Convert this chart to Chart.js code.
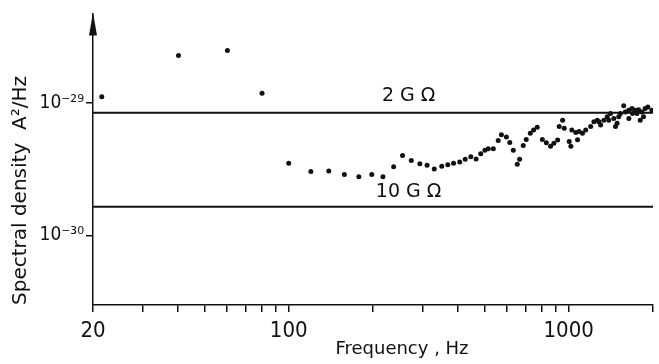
<!DOCTYPE html>
<html>
<head>
<meta charset="utf-8">
<script src="https://cdn.jsdelivr.net/npm/chart.js@4.4.1/dist/chart.umd.min.js"></script>
<style>
  html, body { margin: 0; padding: 0; background: #ffffff; }
  canvas { display: block; }
</style>
</head>
<body>
<canvas id="c" width="659" height="364"></canvas>
<script>
// ---- data ----
const freqHz = [21.5, 40.4, 60.4, 80.3,
  100, 120, 139, 158, 178, 198, 217, 237, 255, 274, 294, 312, 331, 352, 370, 388,
  408, 427, 447, 467, 485, 502, 516, 538, 560, 575, 599, 616, 634, 655, 668, 688,
  705, 729, 749, 772, 805, 832, 861, 885, 913, 925, 951, 964, 1004, 1018, 1026,
  1060, 1075, 1089, 1120, 1150, 1198, 1230, 1265, 1282, 1300, 1335, 1373, 1390,
  1410, 1449, 1469, 1489, 1509, 1530, 1572, 1593, 1637, 1640, 1683, 1690, 1729,
  1753, 1776, 1800, 1826, 1850, 1875, 1917, 1981];
const spectralDensity = [1.11e-29, 2.27e-29, 2.48e-29, 1.18e-29,
  3.49e-30, 3.03e-30, 3.05e-30, 2.88e-30, 2.77e-30, 2.88e-30, 2.77e-30, 3.29e-30,
  4.00e-30, 3.67e-30, 3.47e-30, 3.38e-30, 3.17e-30, 3.32e-30, 3.40e-30, 3.49e-30,
  3.58e-30, 3.74e-30, 3.92e-30, 3.76e-30, 4.12e-30, 4.39e-30, 4.49e-30, 4.49e-30,
  5.19e-30, 5.73e-30, 5.51e-30, 5.01e-30, 4.39e-30, 3.43e-30, 3.74e-30, 4.75e-30,
  5.29e-30, 5.89e-30, 6.23e-30, 6.53e-30, 5.29e-30, 5.00e-30, 4.70e-30, 4.94e-30,
  5.23e-30, 6.61e-30, 7.39e-30, 6.42e-30, 5.11e-30, 4.70e-30, 6.23e-30,
  5.97e-30, 5.26e-30, 6.07e-30, 5.89e-30, 6.23e-30, 6.61e-30, 7.19e-30, 7.39e-30,
  7.19e-30, 6.79e-30, 7.39e-30, 7.84e-30, 7.39e-30,
  8.29e-30, 7.61e-30, 6.61e-30, 6.99e-30, 7.84e-30, 8.29e-30, 9.5e-30, 8.53e-30,
  8.77e-30, 7.61e-30, 9.03e-30, 8.29e-30, 8.77e-30,
  8.29e-30, 8.87e-30, 7.39e-30, 8.53e-30, 7.84e-30, 9.03e-30, 9.29e-30, 8.77e-30];

const resistorNames = ['2 G Ω', '10 G Ω'];
const resistorLevels = [8.4e-30, 1.64e-30];

const xRange = [20, 2000];
const xTickValues = [20, 30, 40, 50, 60, 70, 80, 90, 100, 200, 300, 400, 500, 600, 700, 800, 900, 1000, 2000];
const xTickLabels = ['20', '', '', '', '', '', '', '', '100', '', '', '', '', '', '', '', '', '1000', ''];
const yRange = [2.98e-31, 4.72e-29];
const yTickValues = [1e-30, 1e-29];
const yTickLabels = ['10⁻³⁰', '10⁻²⁹'];

const xTitle = 'Frequency , Hz';
const yTitle = 'Spectral density  A²/Hz';

// ---- chart ----
const points = freqHz.map((f, i) => ({ x: f, y: spectralDensity[i] }));
const levelSets = resistorLevels.map((v, i) => ({
  type: 'line',
  label: resistorNames[i],
  data: [{ x: xRange[0], y: v }, { x: xRange[1], y: v }],
  borderColor: '#111',
  borderWidth: 2,
  pointRadius: 0,
  fill: false
}));

const decorPlugin = {
  id: 'decor',
  afterDraw(chart) {
    const { ctx, chartArea, scales } = chart;
    ctx.save();
    // arrow head on the y axis
    const ax = scales.x.getPixelForValue(xRange[0]);
    ctx.fillStyle = '#111';
    ctx.beginPath();
    ctx.moveTo(ax, chartArea.top - 1);
    ctx.lineTo(ax - 4, chartArea.top + 22);
    ctx.lineTo(ax + 4, chartArea.top + 22);
    ctx.closePath();
    ctx.fill();
    // resistor line labels
    ctx.font = "19px 'DejaVu Sans'";
    ctx.textAlign = 'center';
    ctx.textBaseline = 'middle';
    const lx = scales.x.getPixelForValue(268);
    resistorLevels.forEach((v, i) => {
      const py = scales.y.getPixelForValue(v);
      ctx.fillText(resistorNames[i], lx, py - 17 + (i === 1 ? 2 : 0));
    });
    // x title
    ctx.font = "18px 'DejaVu Sans'";
    ctx.fillText(xTitle, 402, 349);
    ctx.restore();
  }
};

new Chart(document.getElementById('c'), {
  type: 'scatter',
  data: {
    datasets: [
      ...levelSets,
      {
        label: 'Spectral density',
        data: points,
        backgroundColor: '#111',
        borderWidth: 0,
        pointRadius: 2.5,
        pointHoverRadius: 2.5
      }
    ]
  },
  options: {
    responsive: false,
    devicePixelRatio: 1,
    animation: false,
    layout: { padding: { top: 8, right: 1, left: 0, bottom: 0 } },
    plugins: { legend: { display: false }, tooltip: { enabled: false } },
    scales: {
      x: {
        type: 'logarithmic',
        min: xRange[0],
        max: xRange[1],
        afterBuildTicks(scale) { scale.ticks = xTickValues.map(v => ({ value: v })); },
        afterFit(scale) { scale.height = 59; },
        ticks: {
          autoSkip: false,
          maxRotation: 0,
          padding: 6,
          color: '#111',
          font: { family: "'Liberation Sans Narrow', 'DejaVu Sans Condensed', sans-serif", size: 22 },
          callback(value) {
            const i = xTickValues.indexOf(value);
            return i >= 0 ? xTickLabels[i] : '';
          }
        },
        grid: { drawOnChartArea: false, drawTicks: true, tickLength: 7, color: '#111', lineWidth: 1.5 },
        border: { display: true, color: '#111', width: 1.5 },
        title: { display: false, text: xTitle }
      },
      y: {
        type: 'logarithmic',
        min: yRange[0],
        max: yRange[1],
        afterBuildTicks(scale) { scale.ticks = yTickValues.map(v => ({ value: v })); },
        afterFit(scale) { scale.width = 93; },
        ticks: {
          autoSkip: false,
          padding: 2,
          color: '#111',
          font: { family: "'DejaVu Sans Condensed', sans-serif", size: 19 },
          callback(value) {
            const i = yTickValues.findIndex(v => Math.abs(v - value) / v < 1e-6);
            return i >= 0 ? yTickLabels[i] : '';
          }
        },
        grid: { drawOnChartArea: false, drawTicks: true, tickLength: 7, color: '#111', lineWidth: 1.5 },
        border: { display: true, color: '#111', width: 1.5 },
        title: {
          display: true,
          text: yTitle,
          align: 'start',
          color: '#111',
          padding: { top: 9, bottom: 0 },
          font: { family: "'DejaVu Sans'", size: 20 }
        }
      }
    }
  },
  plugins: [decorPlugin]
});
</script>
</body>
</html>
